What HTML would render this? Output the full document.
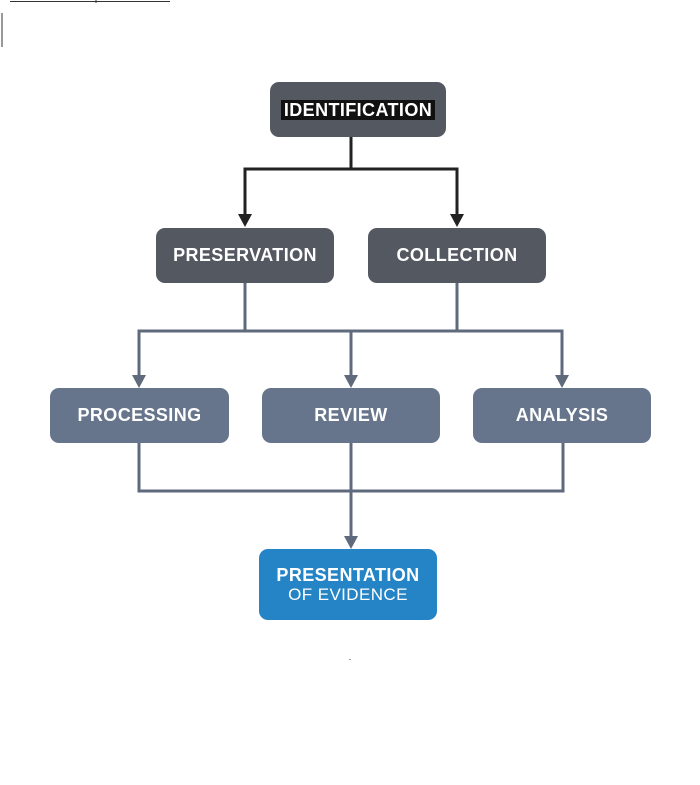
<!DOCTYPE html>
<html><head><style>
body{margin:0;background:#fff;width:700px;height:785px;overflow:hidden;position:relative;font-family:"Liberation Sans",sans-serif}
.b{position:absolute;border-radius:9px;color:#fff;font-weight:bold;font-size:18px;display:flex;align-items:center;justify-content:center;letter-spacing:.4px}
.d{background:#535861}.m{background:#66758b}
</style></head><body>
<svg width="700" height="785" style="position:absolute;left:0;top:0">
<line x1="10" y1="1.5" x2="170" y2="1.5" stroke="#333" stroke-width="1"/>
<line x1="96" y1="0" x2="96" y2="3" stroke="#333" stroke-width="1"/>
<line x1="2" y1="13" x2="2" y2="47" stroke="#333" stroke-width="1"/>
<g stroke="#222" stroke-width="3" fill="none">
<path d="M351 137V169M245 220V169H457V220"/>
</g>
<g fill="#222"><path d="M238 214H252L245 227Z"/><path d="M450 214H464L457 227Z"/></g>
<g stroke="#5f6a7c" stroke-width="3" fill="none">
<path d="M245 283V331M457 283V331M139 380V331H562V380M351 331V380"/>
<path d="M139 443V491H563V443M351 443V540"/>
</g>
<g fill="#5f6a7c"><path d="M132 375H146L139 388Z"/><path d="M344 375H358L351 388Z"/><path d="M555 375H569L562 388Z"/><path d="M344 536H358L351 549Z"/></g>
<rect x="349" y="659" width="2" height="1" fill="#999"/>
</svg>
<div class="b d" style="left:270px;top:82px;width:176px;height:55px"><span style="background:#111;padding:0 3px;line-height:20px">IDENTIFICATION</span></div>
<div class="b d" style="left:156px;top:228px;width:178px;height:55px">PRESERVATION</div>
<div class="b d" style="left:368px;top:228px;width:178px;height:55px">COLLECTION</div>
<div class="b m" style="left:50px;top:388px;width:179px;height:55px">PROCESSING</div>
<div class="b m" style="left:262px;top:388px;width:178px;height:55px">REVIEW</div>
<div class="b m" style="left:473px;top:388px;width:178px;height:55px">ANALYSIS</div>
<div class="b" style="left:259px;top:549px;width:178px;height:71px;background:#2584c6;flex-direction:column;line-height:19px"><span>PRESENTATION</span><span style="font-weight:normal;font-size:17px">OF EVIDENCE</span></div>
</body></html>
